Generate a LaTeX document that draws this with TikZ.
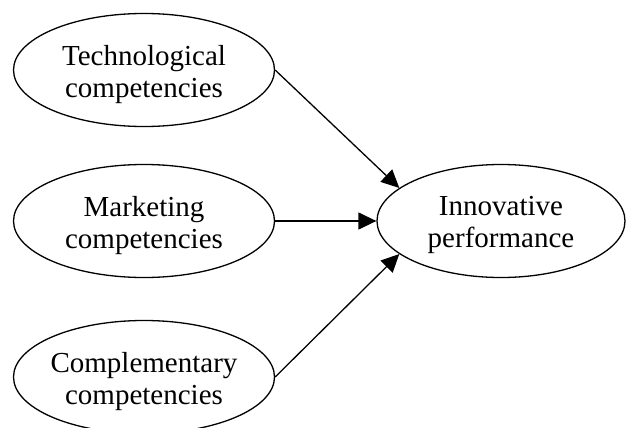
\documentclass[tikz,border=0pt]{standalone}
\usepackage{fontspec}
\setmainfont{Liberation Serif}
\usetikzlibrary{shapes.geometric,arrows.meta}
\begin{document}
\begin{tikzpicture}[x=1pt,y=-1pt,
  oval/.style={draw, ellipse, line width=1.3pt, inner sep=0pt, minimum width=261pt, minimum height=113pt},
  lbl/.style={align=center, inner sep=0pt, font=\fontsize{29}{32}\selectfont},
  arr/.style={line width=1.3pt, -{Triangle[length=18pt,width=17pt]}}]
\useasboundingbox (0,0) rectangle (626,428);
\node[oval] (t) at (144,70) {};
\node[oval] (m) at (144,221) {};
\node[oval] (c) at (144,377) {};
\node[oval, minimum width=248pt] (r) at (501,221) {};
\node[lbl] (tl) at ([yshift=-5pt]t.center) {Technological\\competencies};
\node[lbl] (ml) at ([yshift=-5pt]m.center) {Marketing\\competencies};
\node[lbl] (cl) at ([yshift=-5pt]c.center) {Complementary\\competencies};
\node[lbl] (rl) at ([yshift=-4pt]r.center) {Innovative\\performance};
\draw[arr] (t.east) -- (r.162);
\draw[arr] (m.east) -- (r.west);
\draw[arr] (c.east) -- (r.198);
\end{tikzpicture}
\end{document}
